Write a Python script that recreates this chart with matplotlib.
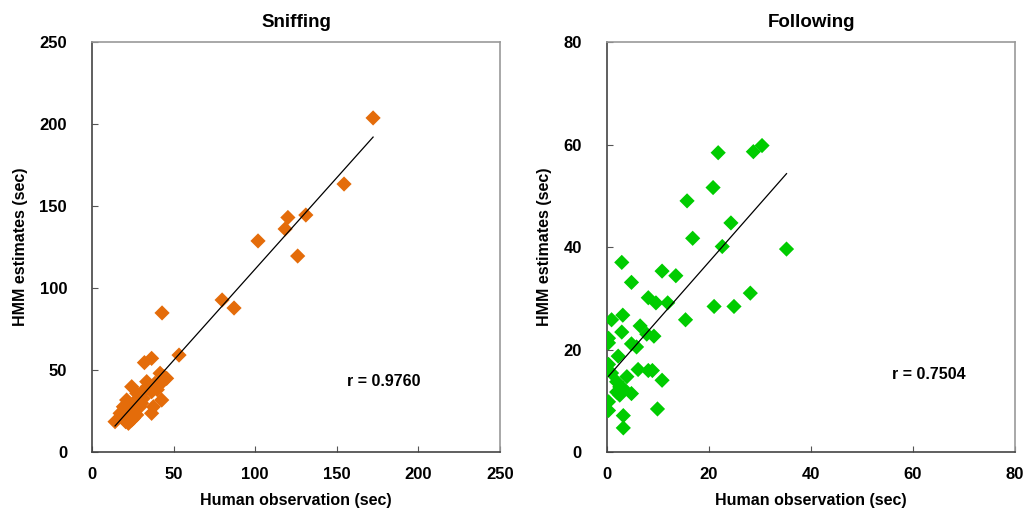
import numpy as np
import matplotlib.pyplot as plt

plt.rcParams['font.family'] = ['Liberation Sans', 'DejaVu Sans']

# Sniffing: human observation vs HMM estimate (sec)
sniff_human = np.array([172.2, 154.4, 120.0, 131.0, 118.3, 101.7, 126.0, 79.7, 87.0,
                        42.9, 53.3, 32.1, 36.5, 41.7, 45.7, 33.5, 38.6, 24.3, 36.5,
                        27.4, 42.7, 31.4, 21.2, 19.2, 37.6, 36.5, 25.3, 29.4, 17.2,
                        23.3, 14.1, 20.6, 24.3, 27.4, 39.6, 43.3, 22.3, 30.4, 32.5,
                        18.2, 22.3, 25.3, 26.0, 28.5, 22.0, 30.0, 34.0, 40.0, 44.0,
                        20.0])
sniff_hmm = np.array([203.7, 163.4, 143.0, 144.5, 136.0, 128.7, 119.5, 92.7, 87.8,
                      84.8, 59.1, 54.5, 57.1, 48.0, 44.9, 42.9, 41.9, 39.8, 36.8,
                      35.8, 31.7, 32.7, 31.7, 27.6, 27.6, 23.6, 25.6, 27.6, 23.6,
                      21.5, 18.5, 18.5, 19.5, 22.6, 39.8, 42.9, 24.6, 29.7, 37.8,
                      22.6, 17.5, 20.5, 30.0, 33.0, 28.0, 36.0, 40.0, 38.0, 46.0,
                      26.0])

# Following: human observation vs HMM estimate (sec)
follow_human = np.array([21.8, 28.7, 30.4, 20.8, 15.7, 24.3, 16.8, 22.6, 35.2, 28.1,
                         2.9, 10.8, 13.5, 4.8, 8.1, 9.6, 11.9, 21.0, 24.9, 3.1,
                         0.9, 15.4, 6.5, 2.9, 7.8, 9.2, 0.3, 0.3, 4.8, 5.8,
                         2.2, 0.3, 0.9, 6.1, 8.1, 8.9, 3.9, 10.8, 1.9, 2.5,
                         3.2, 1.9, 2.5, 4.8, 0.3, 0.3, 9.9, 3.2, 3.2])
follow_hmm = np.array([58.4, 58.6, 59.8, 51.6, 49.0, 44.7, 41.7, 40.1, 39.6, 31.0,
                       37.0, 35.3, 34.4, 33.1, 30.1, 29.1, 29.1, 28.4, 28.4, 26.7,
                       25.8, 25.8, 24.6, 23.4, 23.0, 22.6, 22.2, 21.3, 21.1, 20.5,
                       18.7, 17.1, 15.4, 16.1, 15.9, 15.9, 14.7, 14.0, 13.7, 12.7,
                       12.4, 11.7, 11.1, 11.4, 9.8, 8.1, 8.4, 7.1, 4.7])

panels = [
    ("Sniffing", sniff_human, sniff_hmm, '#E46C0A', 250, 50, "r = 0.9760", (179, 43)),
    ("Following", follow_human, follow_hmm, '#00CC00', 80, 20, "r = 0.7504", (63, 15.2)),
]

fig = plt.figure(figsize=(10.26, 5.13), dpi=100)
lefts = [0.0897, 0.5916]
for (title, hx, hy, color, lim, step, rtext, rpos), left in zip(panels, lefts):
    ax = fig.add_axes([left, 0.1189, 0.3977, 0.7992])
    ax.scatter(hx, hy, marker='D', s=60, color=color, edgecolors='none', zorder=3)
    k, b = np.polyfit(hx, hy, 1)
    xs = np.array([hx.min(), hx.max()])
    ax.plot(xs, k * xs + b, color='black', lw=0.9, zorder=4)
    ax.set_xlim(0, lim)
    ax.set_ylim(0, lim)
    ticks = np.arange(0, lim + 1, step)
    ax.set_xticks(ticks)
    ax.set_yticks(ticks)
    ax.tick_params(direction='in', length=4, width=0.8, labelsize=12, color='#555555')
    ax.tick_params(axis='x', pad=11)
    ax.tick_params(axis='y', pad=18)
    for lab in ax.get_xticklabels() + ax.get_yticklabels():
        lab.set_fontweight('bold')
    ax.spines['left'].set_color('#444444')
    ax.spines['bottom'].set_color('#444444')
    ax.spines['top'].set_color('#999999')
    ax.spines['right'].set_color('#999999')
    for s in ax.spines.values():
        s.set_linewidth(1.2)
    ax.set_title(title, fontsize=13.5, fontweight='bold', pad=11)
    ax.set_xlabel('Human observation (sec)', fontsize=11.5, fontweight='bold', labelpad=8)
    ax.set_ylabel('HMM estimates (sec)', fontsize=11.5, fontweight='bold', labelpad=8)
    ax.text(rpos[0], rpos[1], rtext, fontsize=11.5, fontweight='bold', ha='center', va='center')

plt.savefig("out.png", dpi=100)
